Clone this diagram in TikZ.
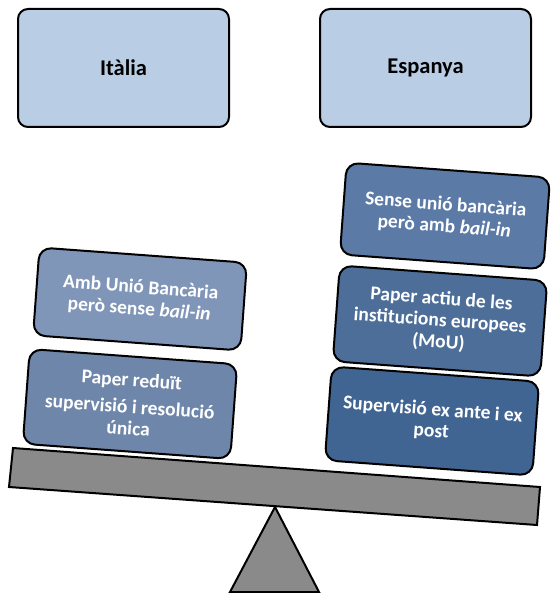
\documentclass[tikz,border=0pt]{standalone}
\usepackage{fontspec}
\setmainfont{Carlito}
\definecolor{paleblue}{HTML}{B9CDE5}
\definecolor{wtone}{HTML}{8096B8}
\definecolor{wttwo}{HTML}{6E86AA}
\definecolor{wtthree}{HTML}{5B7AA6}
\definecolor{wtfour}{HTML}{4E6E9A}
\definecolor{wtfive}{HTML}{416593}
\definecolor{beamgray}{HTML}{8A8A8A}

\begin{document}
\begin{tikzpicture}[x=1pt,y=-1pt,
    country/.style={draw=black,line width=2pt,rounded corners=10pt,fill=paleblue,
      minimum width=211pt,minimum height=118pt,
      font=\bfseries\fontsize{22.5}{26}\selectfont},
    weight/.style={draw=black,line width=2pt,rounded corners=12pt,rotate=-4.2,
      text=white,align=center,minimum width=208pt,minimum height=92pt,
      font=\bfseries\fontsize{19.5}{21.7}\selectfont}]
      \useasboundingbox (0,0) rectangle (550,593);
      % the two countries
      \node[country] (italia) at (123.5,68) {Itàlia};
      \node[country] (espanya) at (425.5,68) {Espanya};
      % the scale
      \draw[line width=2pt,fill=beamgray] (275,507)--(230,592)--(319,592)--cycle;
      \draw[line width=2pt,fill=beamgray] (13,448)--(540,487)--(537,525)--(9,487)--cycle;
      % weights on the left
      \node[weight,fill=wttwo,minimum height=95pt] (reduit) at (130,404)
        {Paper reduït\\[5pt]supervisió i resolució\\única};
      \node[weight,fill=wtone,minimum height=88pt] (unio) at (140,299)
        {Amb Unió Bancària\\però sense \textit{bail-in}};
      % weights on the right
      \node[weight,fill=wtfive,minimum height=94pt] (superv) at (432,421)
        {Supervisió ex ante i ex\\post};
      \node[weight,fill=wtfour,minimum height=96pt] (actiu) at (440,321)
        {Paper actiu de les\\institucions europees\\(MoU)};
      \node[weight,fill=wtthree,minimum width=204pt,minimum height=92pt] (bailin) at (445,216)
        {Sense unió bancària\\però amb \textit{bail-in}};
    \end{tikzpicture}
\end{document}
